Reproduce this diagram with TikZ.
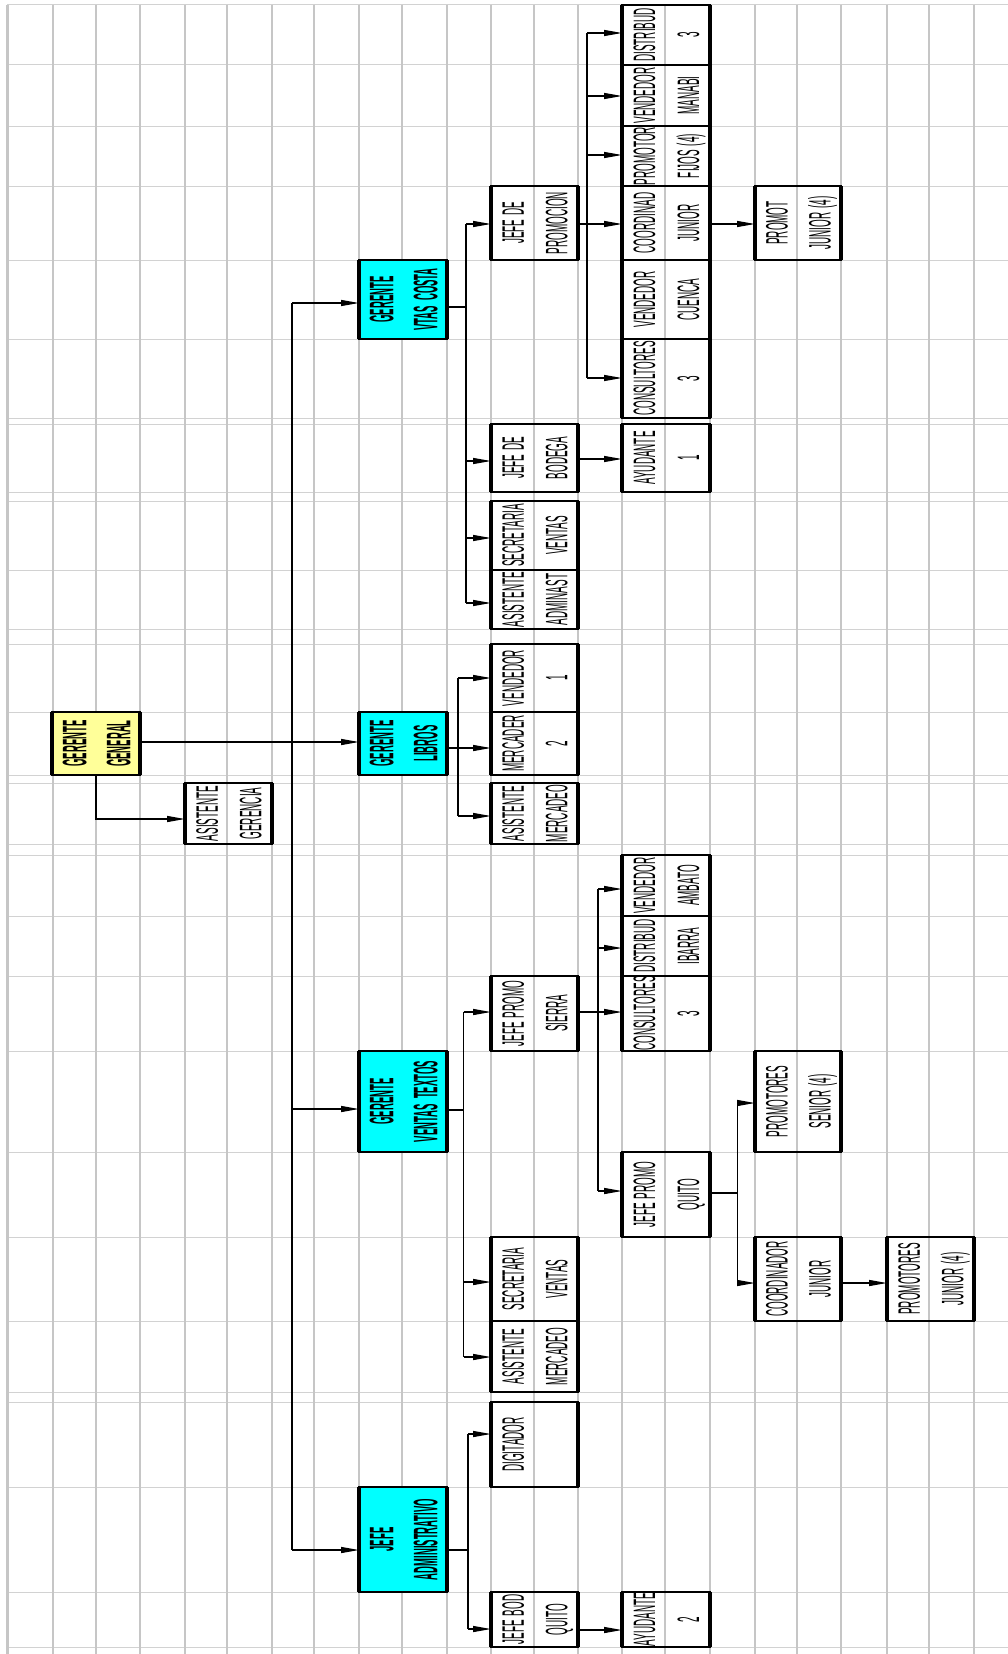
\documentclass[tikz,border=0pt]{standalone}
\usepackage{fontspec}
\newfontfamily\nfont[FakeStretch=0.32,WordSpace=1.4]{Liberation Sans}
\newfontfamily\hfont[FakeStretch=0.28,WordSpace=2]{Liberation Sans}
\usetikzlibrary{arrows.meta,fit,calc}
\definecolor{gridv}{HTML}{C6C6C6}
\definecolor{gridh}{HTML}{D2D2D2}
\definecolor{cy}{HTML}{00FFFF}
\definecolor{yl}{HTML}{FFFF99}
\tikzset{
  cellbox/.style={draw=black, line width=1.3pt, inner sep=0pt, outer sep=0pt},
  plain/.style={},
  cyanbox/.style={fill=cy},
  yelbox/.style={fill=yl},
  plain txt/.style={rotate=90, inner sep=0pt, font=\nfont\fontsize{31}{31}\selectfont, text height=22pt, text depth=0pt},
  cyanbox txt/.style={rotate=90, inner sep=0pt, font=\hfont\bfseries\fontsize{34}{34}\selectfont, text height=24.5pt, text depth=0pt},
  yelbox txt/.style={cyanbox txt},
  sideline/.style={line width=3.2pt, line cap=butt},
  conn/.style={line width=1.3pt},
  arr/.style={conn, -{Triangle[length=18pt,width=6pt]}},
  vgrid/.style={draw=gridv, line width=2pt},
  hgrid/.style={draw=gridh, line width=1pt},
}
\newcommand\obox[8][plain]{%
  \path (#3,#4) coordinate (#2-nw) (#5,#6) coordinate (#2-se);
  \node[cellbox,#1,fit=(#2-nw)(#2-se)] (#2) {};
  \draw[sideline] (#2.north west) -- (#2.south west) (#2.north east) -- (#2.south east);
  \node[#1 txt] (#2-a) at ($(#2.west)!0.25!(#2.east)$) {#7};
  \node[#1 txt] (#2-b) at ($(#2.west)!0.75!(#2.east)$) {#8};
}
\begin{document}
\begin{tikzpicture}[x=1pt,y=-1pt]
\useasboundingbox (0,0) rectangle (1008,1654);
\fill[white] (0,0) rectangle (1008,1654);
% grid
\foreach \yy in {5,65,126,186,260,339,418,424,492,501,570,629,644,712,775,783,844,855,916,976,1051,1152,1237,1321,1392,1402,1487,1592,1647}
  \draw[hgrid] (7,\yy) -- (1008,\yy);
\foreach \xx in {53,96,140,185,227,272,314,359,402,447,491,534,578,622,665,710,755,797,841,887,929,974}
  \draw[vgrid] (\xx,5) -- (\xx,1654);
\draw[vgrid, line width=3pt] (7,5) -- (7,1654);

% boxes
\obox[yelbox]{gg}{52}{712}{140}{775}{GERENTE}{GENERAL}
\obox{asg}{185}{783}{272}{844}{ASISTENTE}{GERENCIA}
\obox[cyanbox]{gvc}{359}{260}{447}{339}{GERENTE}{VTAS COSTA}
\obox[cyanbox]{gl}{359}{712}{447}{775}{GERENTE}{LIBROS}
\obox[cyanbox]{gvt}{359}{1051}{447}{1152}{GERENTE}{VENTAS TEXTOS}
\obox[cyanbox]{ja}{359}{1487}{447}{1592}{JEFE}{ADMINISTRATIVO}
% costa branch
\obox{jp}{491}{186}{578}{260}{JEFE DE}{PROMOCION}
\obox{jb}{491}{424}{578}{492}{JEFE DE}{BODEGA}
\obox{sv}{491}{501}{578}{570}{SECRETARIA}{VENTAS}
\obox{aa}{491}{570}{578}{629}{ASISTENTE}{ADMINAST}
\obox{ay1}{622}{424}{710}{492}{AYUDANTE}{1}
\obox{dis}{622}{5}{710}{65}{DISTRIBUD}{3}
\obox{vman}{622}{65}{710}{126}{VENDEDOR}{MANABI}
\obox{pfij}{622}{126}{710}{186}{PROMOTOR}{FIJOS (4)}
\obox{coo}{622}{186}{710}{260}{COORDINAD}{JUNIOR}
\obox{vcue}{622}{260}{710}{339}{VENDEDOR}{CUENCA}
\obox{con}{622}{339}{710}{418}{CONSULTORES}{3}
\obox{pju}{755}{186}{841}{260}{PROMOT}{JUNIOR (4)}
% libros branch
\obox{ven1}{491}{644}{578}{712}{VENDEDOR}{1}
\obox{mer2}{491}{712}{578}{775}{MERCADER}{2}
\obox{asm}{491}{783}{578}{844}{ASISTENTE}{MERCADEO}
% textos branch
\obox{jps}{491}{976}{578}{1051}{JEFE PROMO}{SIERRA}
\obox{sec2}{491}{1237}{578}{1321}{SECRETARIA}{VENTAS}
\obox{asm2}{491}{1321}{578}{1392}{ASISTENTE}{MERCADEO}
\obox{amb}{622}{855}{710}{916}{VENDEDOR}{AMBATO}
\obox{iba}{622}{916}{710}{976}{DISTRIBUD}{IBARRA}
\obox{con2}{622}{976}{710}{1051}{CONSULTORES}{3}
\obox{jpq}{622}{1152}{710}{1237}{JEFE PROMO}{QUITO}
\obox{ps}{755}{1051}{841}{1152}{PROMOTORES}{SENIOR (4)}
\obox{cj}{755}{1237}{841}{1321}{COORDINADOR}{JUNIOR}
\obox{pjr}{887}{1237}{974}{1321}{PROMOTORES}{JUNIOR (4)}
% admin branch
\obox{dig}{491}{1402}{578}{1487}{DIGITADOR}{}
\obox{jbq}{491}{1592}{578}{1647}{JEFE BOD}{QUITO}
\obox{ay2}{622}{1592}{710}{1647}{AYUDANTE}{2}

% trunk
\coordinate (t1) at (292,303);
\coordinate (t2) at (292,1109);
\coordinate (t3) at (292,1550);
\draw[conn] (t1) -- (t3);
\draw[arr] (t1) -- (gvc.west |- t1);
\draw[arr] (t2) -- (gvt.west |- t2);
\draw[arr] (t3) -- (ja.west |- t3);
% general manager
\coordinate (g1) at (140,742);
\draw[arr] (gg.east |- g1) -- (gl.west |- g1);
\coordinate (g2) at (96,819);
\draw[arr] (gg.south) |- (asg.west |- g2);
% costa
\coordinate (c0) at (466,307);
\coordinate (c1) at (466,224);
\coordinate (c2) at (466,461);
\coordinate (c3) at (466,538);
\coordinate (c4) at (466,603);
\draw[conn] (gvc.east |- c0) -- (c0);
\draw[conn] (c1) -- (c4);
\draw[arr] (c1) -- (jp.west |- c1);
\draw[arr] (c2) -- (jb.west |- c2);
\draw[arr] (c3) -- (sv.west |- c3);
\draw[arr] (c4) -- (aa.west |- c4);
\coordinate (c5) at (578,459);
\draw[arr] (jb.east |- c5) -- (ay1.west |- c5);
% promocion
\coordinate (p1) at (587,33);
\coordinate (p2) at (587,96);
\coordinate (p3) at (587,155);
\coordinate (p4) at (587,224);
\coordinate (p5) at (587,378);
\draw[conn] (p1) -- (p5);
\draw[conn] (jp.east |- p4) -- (p4);
\draw[arr] (p1) -- (dis.west |- p1);
\draw[arr] (p2) -- (vman.west |- p2);
\draw[arr] (p3) -- (pfij.west |- p3);
\draw[arr] (p4) -- (coo.west |- p4);
\draw[arr] (p5) -- (con.west |- p5);
\draw[arr] (coo.east |- p4) -- (pju.west |- p4);
% libros
\coordinate (l0) at (458,748);
\coordinate (l1) at (458,678);
\coordinate (l3) at (458,816);
\draw[conn] (gl.east |- l0) -- (l0);
\draw[conn] (l1) -- (l3);
\draw[arr] (l1) -- (ven1.west |- l1);
\draw[arr] (l0) -- (mer2.west |- l0);
\draw[arr] (l3) -- (asm.west |- l3);
% textos
\coordinate (x0) at (463.5,1110);
\coordinate (x1) at (463.5,1012);
\coordinate (x2) at (463.5,1282);
\coordinate (x3) at (463.5,1357);
\draw[conn] (gvt.east |- x0) -- (x0);
\draw[conn] (x1) -- (x3);
\draw[arr] (x1) -- (jps.west |- x1);
\draw[arr] (x2) -- (sec2.west |- x2);
\draw[arr] (x3) -- (asm2.west |- x3);
% sierra
\coordinate (s1) at (598,889);
\coordinate (s2) at (598,948);
\coordinate (s3) at (598,1012);
\coordinate (s4) at (598,1191);
\draw[conn] (jps.east |- s3) -- (s3);
\draw[conn] (s1) -- (s4);
\draw[arr] (s1) -- (amb.west |- s1);
\draw[arr] (s2) -- (iba.west |- s2);
\draw[arr] (s3) -- (con2.west |- s3);
\draw[arr] (s4) -- (jpq.west |- s4);
% quito
\coordinate (q0) at (737.5,1193);
\coordinate (q1) at (737.5,1103);
\coordinate (q2) at (737.5,1283);
\draw[conn] (jpq.east |- q0) -- (q0);
\draw[conn] (q1) -- (q2);
\draw[arr] (q1) -- (ps.west |- q1);
\draw[arr] (q2) -- (cj.west |- q2);
\draw[arr] (cj.east |- q2) -- (pjr.west |- q2);
% admin
\coordinate (a0) at (468,1550);
\coordinate (a1) at (468,1434);
\coordinate (a2) at (468,1629);
\draw[conn] (ja.east |- a0) -- (a0);
\draw[conn] (a1) -- (a2);
\draw[arr] (a1) -- (dig.west |- a1);
\draw[arr] (a2) -- (jbq.west |- a2);
\coordinate (a3) at (578,1630);
\draw[arr] (jbq.east |- a3) -- (ay2.west |- a3);
\end{tikzpicture}
\end{document}
